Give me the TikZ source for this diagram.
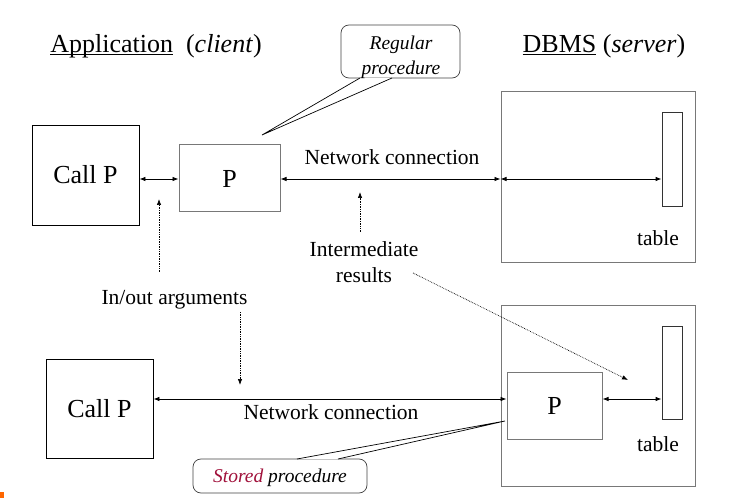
\documentclass[tikz,border=0pt]{standalone}
\usepackage{fontspec}
\setmainfont{Liberation Serif}
\usetikzlibrary{arrows.meta,calc}
\definecolor{storedred}{RGB}{160,16,58}
\definecolor{boxgray}{RGB}{120,120,120}
\newcommand{\myul}[1]{\setbox0\hbox{#1}\rlap{\rule[-2.5pt]{\wd0}{0.9pt}}\box0\relax}
\tikzset{
  bigbox/.style={draw=black, line width=0.8pt, inner sep=0pt, font=\fontsize{26}{30}\selectfont},
  grbox/.style={draw=boxgray, line width=1pt, inner sep=0pt, font=\fontsize{26}{30}\selectfont},
  tablebox/.style={draw=black!80, line width=0.8pt, inner sep=0pt, minimum width=20pt},
  lbl/.style={font=\fontsize{21.5}{26}\selectfont, align=center, inner sep=0pt},
  title/.style={font=\fontsize{26}{30}\selectfont, inner sep=0pt},
  callout/.style={draw=black!75, line width=0.7pt, rounded corners=8pt, inner sep=0pt},
  ctext/.style={font=\fontsize{19.5}{25}\selectfont\itshape, align=center, inner sep=0pt},
  link/.style={line width=0.8pt, {Latex[length=6pt,width=4.5pt]}-{Latex[length=6pt,width=4.5pt]}},
  dotarrow/.style={line width=0.7pt, densely dotted, -{Latex[length=6pt,width=4.5pt]}},
  pointer/.style={line width=0.7pt, draw=black}
}
\begin{document}
\begin{tikzpicture}[x=1pt,y=-1pt]
\useasboundingbox (0,0) rectangle (740,500);
% titles
\node[title] (apptitle) at (156,46) {\myul{Application}\ \ (\textit{client})};
\node[title] (dbtitle) at (604,46) {\myul{DBMS} (\textit{server})};
% top row
\node[bigbox, minimum width=107pt, minimum height=100pt] (ct) at (85.5,175) {Call P};
\node[grbox, minimum width=101pt, minimum height=67pt] (pt) at (229.5,178.5) {P};
\node[grbox, minimum width=194pt, minimum height=171pt] (dt) at (598,177.5) {};
\node[tablebox, minimum height=94pt] (tt) at (672,159) {};
\node[lbl] (tabt) at (658,238) {table};
\coordinate (rowa) at (0,179);
\draw[link] (ct.east |- rowa) -- (pt.west |- rowa);
\draw[link] (pt.east |- rowa) -- (dt.west |- rowa);
\draw[link] (dt.west |- rowa) -- (tt.west |- rowa);
\node[lbl] (nct) at (392,157) {Network connection};
% bottom row
\node[bigbox, minimum width=107pt, minimum height=99pt] (cb) at (99.5,408.5) {Call P};
\node[grbox, minimum width=194pt, minimum height=181pt] (db) at (598,395.5) {};
\node[grbox, minimum width=95pt, minimum height=67pt] (pb) at (554.5,405.5) {P};
\node[tablebox, minimum height=93pt] (tb) at (672,372.5) {};
\node[lbl] (tabb) at (658,444) {table};
\coordinate (rowb) at (0,399);
\draw[link] (cb.east |- rowb) -- (pb.west |- rowb);
\draw[link] (pb.east |- rowb) -- (tb.west |- rowb);
\node[lbl] (ncb) at (331,412) {Network connection};
% labels with dotted arrows
\node[lbl] (io) at (174.5,300) {In/out arguments};
\node[lbl] (ir) at (364,262) {Intermediate\\results};
\coordinate (io1s) at (159,272);
\coordinate (io1e) at (159,199);
\coordinate (io2s) at (240,312);
\coordinate (io2e) at (240,385);
\coordinate (ir1s) at (360,232);
\coordinate (ir1e) at (360,192);
\coordinate (ir2s) at (413,273);
\coordinate (ir2e) at (628,380);
\draw[dotarrow] (io1s) -- (io1e);
\draw[dotarrow] (io2s) -- (io2e);
\draw[dotarrow] (ir1s) -- (ir1e);
\draw[dotarrow] (ir2s) -- (ir2e);
% callout: regular procedure
\node[callout, minimum width=119pt, minimum height=53pt] (rp) at (400.5,51.5) {};
\coordinate (rptip) at (262,135);
\coordinate (rpa) at (360,78);
\coordinate (rpb) at (392,78);
\fill[white] (rpa) -- (rptip) -- (rpb) -- cycle;
\draw[pointer] (rpa) -- (rptip) -- (rpb);
\node[ctext] (rpt) at (401,57) {Regular\\procedure};
% callout: stored procedure
\node[callout, minimum width=174pt, minimum height=34pt] (sp) at (280,476) {};
\coordinate (sptip) at (505,421);
\coordinate (spa) at (297,459);
\coordinate (spb) at (338,459);
\fill[white] (spa) -- (sptip) -- (spb) -- cycle;
\draw[pointer] (spa) -- (sptip) -- (spb);
\node[ctext] (spt) at (280,478) {\textcolor{storedred}{Stored} procedure};
% small mark at bottom-left corner
\fill[orange!80!red] (0,492) rectangle (4,498);
\end{tikzpicture}
\end{document}
